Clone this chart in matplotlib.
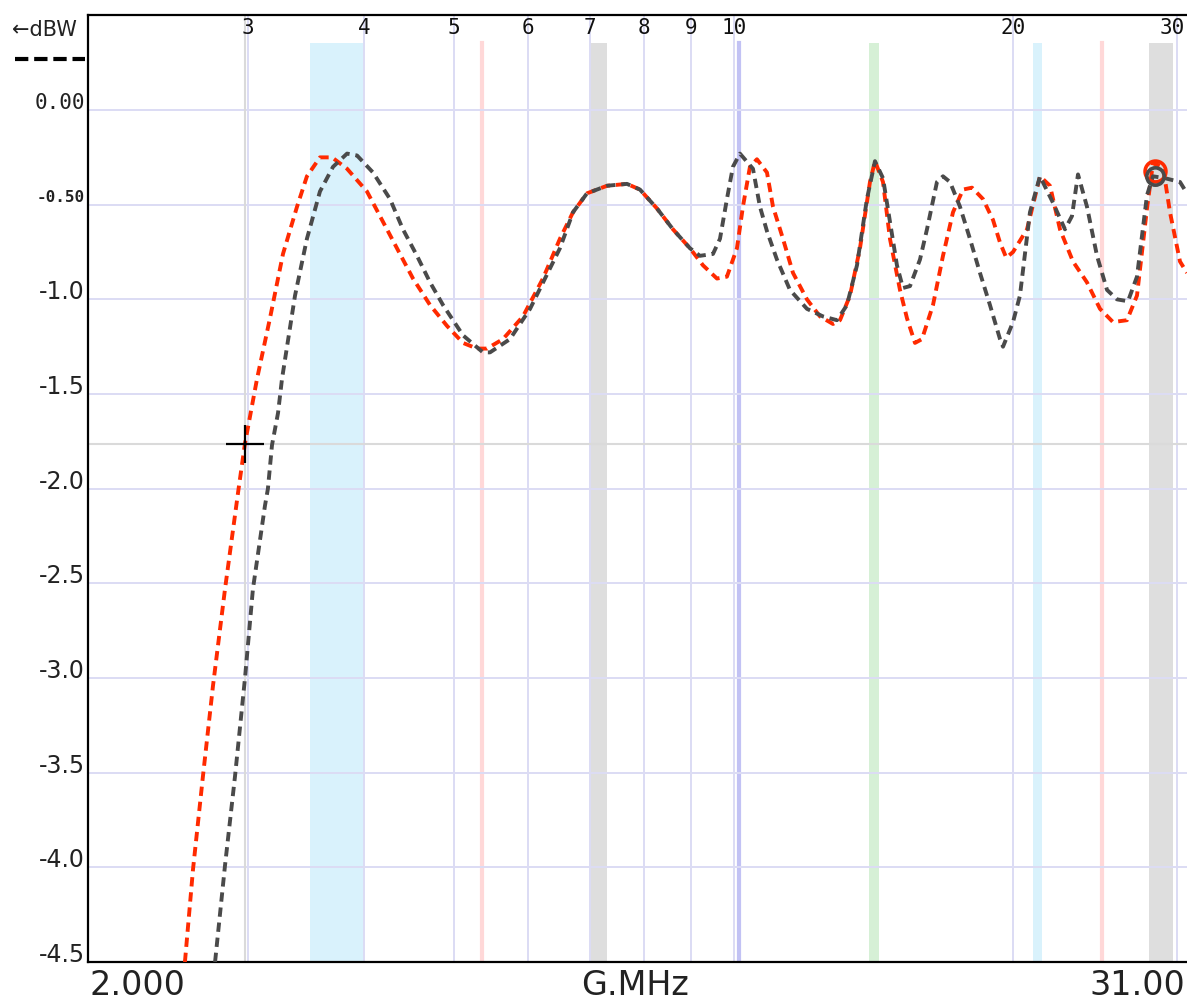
import matplotlib
matplotlib.use("Agg")
import matplotlib.pyplot as plt
import matplotlib.transforms as mtransforms
from matplotlib.lines import Line2D

# ---- data ----
red_freq = [2.566, 2.618, 2.683, 2.751, 2.834, 2.931, 2.978, 3.068, 3.168, 3.272, 3.388, 3.472,
            3.586, 3.695, 3.835, 4.029, 4.161, 4.340, 4.516, 4.711, 4.913, 5.112, 5.292, 5.425,
            5.644, 5.931, 6.232, 6.500, 6.714, 6.951, 7.304, 7.675, 7.926, 8.268, 8.602, 8.972,
            9.266, 9.593, 9.833, 10.080, 10.231, 10.410, 10.592, 10.859, 11.022, 11.298, 11.582,
            11.990, 12.383, 12.789, 13.013, 13.340, 13.674, 14.017, 14.192, 14.477, 14.729,
            15.099, 15.364, 15.672, 15.946, 16.387, 16.798, 17.220, 17.652, 18.050, 18.548,
            19.014, 19.348, 19.650, 19.981, 20.687, 21.364, 21.900, 22.448, 23.183, 24.001,
            24.789, 25.600, 26.504, 27.169, 27.851, 28.269, 28.977, 29.485, 30.225, 30.755]
red_level = [-4.50, -4.01, -3.52, -3.04, -2.53, -2.00, -1.76, -1.42, -1.10, -0.76, -0.51, -0.35,
             -0.25, -0.25, -0.31, -0.43, -0.56, -0.73, -0.89, -1.03, -1.14, -1.23, -1.26, -1.26,
             -1.21, -1.09, -0.89, -0.68, -0.54, -0.44, -0.40, -0.39, -0.42, -0.52, -0.63, -0.73,
             -0.82, -0.89, -0.88, -0.73, -0.51, -0.30, -0.26, -0.33, -0.51, -0.68, -0.86,
             -1.00, -1.09, -1.13, -1.11, -0.98, -0.73, -0.38, -0.27, -0.38, -0.68,
             -0.95, -1.10, -1.23, -1.21, -1.03, -0.77, -0.54, -0.42, -0.41, -0.47,
             -0.58, -0.70, -0.78, -0.75, -0.63, -0.35, -0.40, -0.63, -0.80, -0.91,
             -1.05, -1.12, -1.11, -0.98, -0.52, -0.28, -0.30, -0.54, -0.80, -0.86]

gray_freq = [2.765, 2.834, 2.905, 2.978, 3.037, 3.129, 3.152, 3.184, 3.232, 3.264, 3.288, 3.371,
             3.472, 3.586, 3.704, 3.835, 3.931, 4.090, 4.266, 4.405, 4.561, 4.711, 4.865, 5.112,
             5.371, 5.466, 5.743, 6.036, 6.500, 6.714, 6.951, 7.304, 7.675, 7.926, 8.268, 8.602,
             8.972, 9.197, 9.499, 9.665, 9.833, 9.980, 10.155, 10.488, 10.671, 10.859, 11.131,
             11.495, 11.990, 12.475, 12.916, 13.240, 13.573, 13.912, 14.192, 14.477, 14.729,
             14.986, 15.212, 15.478, 15.866, 16.144, 16.549, 16.798, 17.092, 17.519, 17.959,
             18.410, 18.872, 19.348, 19.492, 19.981, 20.328, 20.839, 21.364, 22.064, 22.728,
             23.126, 23.474, 24.001, 24.606, 25.224, 25.857, 26.570, 27.169, 27.851, 28.269,
             29.122, 30.225, 30.755]
gray_level = [-4.50, -3.99, -3.52, -3.00, -2.53, -2.09, -2.00, -1.77, -1.60, -1.42, -1.32, -0.98,
              -0.68, -0.43, -0.30, -0.23, -0.24, -0.33, -0.47, -0.63, -0.77, -0.91, -1.03, -1.19,
              -1.28, -1.28, -1.21, -1.05, -0.73, -0.54, -0.44, -0.40, -0.39, -0.42, -0.52, -0.63,
              -0.73, -0.77, -0.76, -0.68, -0.47, -0.30, -0.23, -0.31, -0.51, -0.64, -0.79,
              -0.95, -1.05, -1.09, -1.11, -1.03, -0.82, -0.47, -0.27, -0.36, -0.59,
              -0.82, -0.94, -0.93, -0.79, -0.63, -0.38, -0.35, -0.38, -0.51, -0.68,
              -0.86, -1.03, -1.21, -1.25, -1.12, -0.98, -0.54, -0.35, -0.49, -0.63,
              -0.56, -0.34, -0.51, -0.77, -0.95, -1.00, -1.01, -0.88, -0.45, -0.35,
              -0.36, -0.38, -0.44]

grid_freqs = [3, 4, 5, 6, 7, 8, 9, 10, 20, 30]
top_labels = ["3", "4", "5", "6", "7", "8", "9", "10", "20", "30"]
grid_levels = [0.0, -0.5, -1.0, -1.5, -2.0, -2.5, -3.0, -3.5, -4.0, -4.5]
level_labels = ["0.00", "-0.50", "-1.0", "-1.5", "-2.0", "-2.5", "-3.0", "-3.5", "-4.0", "-4.5"]

band_lo = [3.5, 5.3515, 7.0, 10.1, 14.0, 21.0, 24.89, 28.0]
band_hi = [4.0, 5.3665, 7.3, 10.15, 14.35, 21.45, 24.99, 29.7]
band_colors = ["#d9f2fc", "#ffd8d8", "#dedede", "#c2c2f4", "#d6f0d6", "#d9f2fc", "#ffd8d8", "#dedede"]

cursor_freq = 2.978
cursor_level = -1.764
marker_freq = 28.40
marker_level = -0.35

x_min, x_max = 2.018, 30.755
y_min, y_max = -4.5, 0.502
x_left_label, x_mid_label, x_right_label = "2.000", "G.MHz", "31.00"
unit_label = "\u2190dBW"

# ---- figure ----
W, H = 1187, 1004
fig = plt.figure(figsize=(W / 100, H / 100), dpi=100)
ax = fig.add_axes([88 / W, (H - 963) / H, 1 - 88 / W, (963 - 16) / H])
ax.set_xscale("log")
ax.set_xlim(x_min, x_max)
ax.set_ylim(y_min, y_max)
ax.set_xticks([])
ax.set_yticks([])
ax.xaxis.set_minor_locator(matplotlib.ticker.NullLocator())

for s in ["left", "top", "bottom"]:
    ax.spines[s].set_linewidth(1.6)
    ax.spines[s].set_color("black")
ax.spines["right"].set_visible(False)

band_top = (963 - 44) / (963 - 16)
for lo, hi, c in zip(band_lo, band_hi, band_colors):
    ax.axvspan(lo, hi, ymin=0, ymax=band_top, color=c, lw=0, zorder=0.5)
    if hi / lo < 1.01:
        ax.axvline((lo * hi) ** 0.5, ymin=0, ymax=band_top, color=c, lw=3.0, zorder=0.5)

# grid
for f in grid_freqs:
    ax.axvline(f, color="#dcdcf4", lw=1.4, zorder=1)
for v in grid_levels:
    ax.axhline(v, color="#dcdcf4", lw=1.4, zorder=1)

# cursor lines
ax.axvline(cursor_freq, color="#dadada", lw=1.5, zorder=1.2)
ax.axhline(cursor_level, color="#dadada", lw=1.5, zorder=1.2)

dash = (2.4, 1.5)
ax.plot(red_freq, red_level, color="#ff2a00", lw=2.8, dashes=dash, zorder=3)
ax.plot(gray_freq, gray_level, color="#4a4a4a", lw=2.8, dashes=dash, zorder=4)

ax.plot([marker_freq], [marker_level + 0.03], marker="o", ms=15, mfc="none",
        mec="#ff2a00", mew=2.6, zorder=5)
ax.plot([marker_freq], [marker_level], marker="o", ms=12.5, mfc="none",
        mec="#4a4a4a", mew=2.6, zorder=6)
ax.plot([cursor_freq], [cursor_level], marker="+", ms=28, mew=1.6, color="black", zorder=7)

# top labels
top_trans = mtransforms.blended_transform_factory(ax.transData, fig.transFigure)
for f, lab in zip(grid_freqs, top_labels):
    if f == grid_freqs[-1]:
        fig.text(1185 / W, 1 - 28 / H, lab, ha="right", va="center",
                 fontsize=15, family="DejaVu Sans Mono", color="#111111")
    else:
        ax.text(f, 1 - 28 / H, lab, transform=top_trans, ha="center", va="center",
                fontsize=15, family="DejaVu Sans Mono", color="#111111", clip_on=False)

# y labels
ylab_trans = mtransforms.offset_copy(
    mtransforms.blended_transform_factory(ax.transAxes, ax.transData),
    fig=fig, x=-3, y=8, units="dots")
for v, lab in zip(grid_levels, level_labels):
    if lab == "0.00":
        kw = dict(fontsize=15, family="DejaVu Sans Mono")
    elif lab == "-0.50":
        kw = dict(fontsize=11.5, family="DejaVu Sans Mono", weight="bold")
    else:
        kw = dict(fontsize=17, family="DejaVu Sans")
    ax.text(0, v, lab, transform=ylab_trans, ha="right", va="center",
            color="#222222", clip_on=False, **kw)

# bottom labels
fig.text(90 / W, 1 - 986 / H, x_left_label, ha="left", va="center", fontsize=24,
         family="DejaVu Sans", color="#222222")
fig.text(635 / W, 1 - 986 / H, x_mid_label, ha="center", va="center", fontsize=24,
         family="DejaVu Sans", color="#222222")
fig.text(1185 / W, 1 - 986 / H, x_right_label, ha="right", va="center", fontsize=24,
         family="DejaVu Sans", color="#222222")

# unit legend top-left
fig.text(12 / W, 1 - 30 / H, unit_label, ha="left", va="center", fontsize=15,
         family="DejaVu Sans", color="#222222")
fig.add_artist(Line2D([15 / W, 85 / W], [1 - 60 / H, 1 - 60 / H], transform=fig.transFigure,
                      color="black", lw=3, dashes=(3.2, 1.4)))

fig.savefig("out.png", dpi=100, facecolor="white")
